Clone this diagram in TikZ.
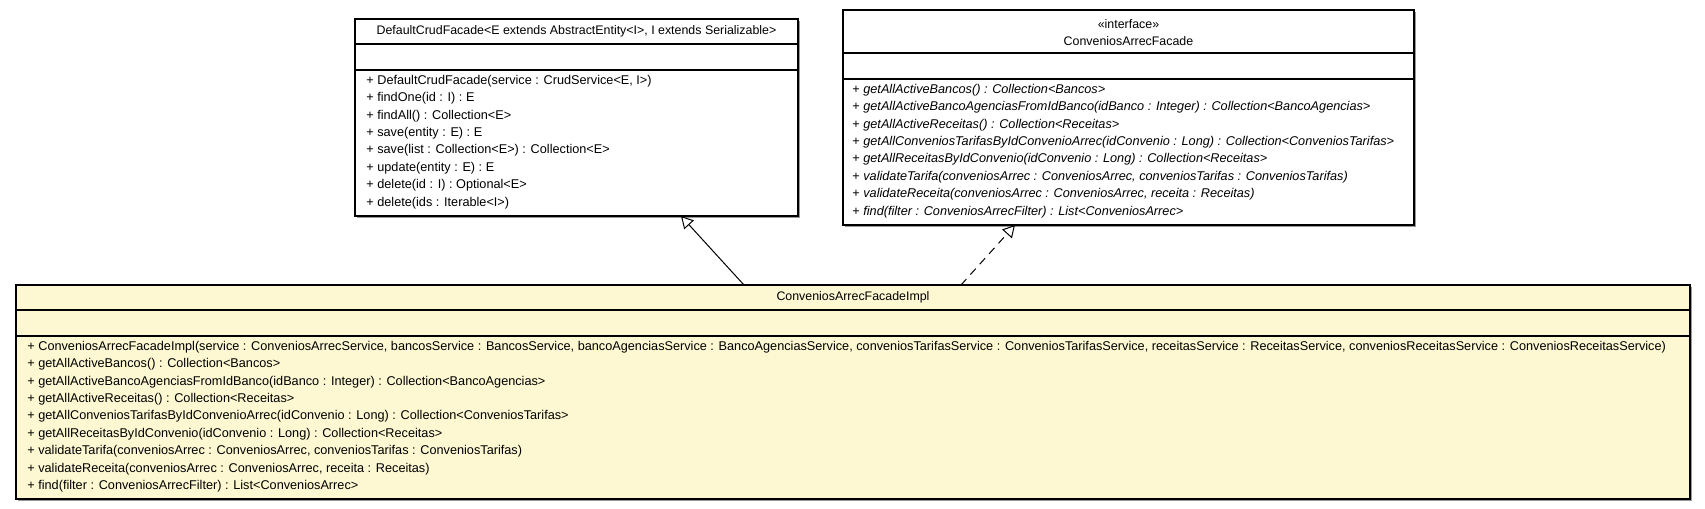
\documentclass[tikz,border=0pt]{standalone}
\usepackage{fontspec}
\setmainfont{Liberation Sans}
\usetikzlibrary{calc,positioning,arrows.meta}

\begin{document}
\begin{tikzpicture}[x=0.5pt,y=-0.5pt,
  umlbox/.style={draw=black,line width=0.75pt},
  shadowbox/.style={fill=black!40,draw=none},
  divider/.style={draw=black,line width=0.6pt},
  member/.style={inner sep=0pt,anchor=west,font=\fontsize{6.35}{7}\selectfont},
  classname/.style={inner sep=0pt,font=\fontsize{6.2}{7}\selectfont},
  inherit/.style={-{Triangle[open,length=6pt,width=6.5pt]},line width=0.5pt},
  realize/.style={inherit,dash pattern=on 4pt off 3pt}]

 \useasboundingbox (0,0) rectangle (1705,509);

    % corners of the three classes
    \coordinate (crud-nw) at (355,19);   \coordinate (crud-se) at (798,216);
    \coordinate (face-nw) at (843,10);   \coordinate (face-se) at (1414,225);
    \coordinate (impl-nw) at (16,285);   \coordinate (impl-se) at (1690,499);

    % shadows
    \fill[shadowbox] ($(crud-nw)+(2,2)$) rectangle ($(crud-se)+(2,2)$);
    \fill[shadowbox] ($(face-nw)+(2,2)$) rectangle ($(face-se)+(2,2)$);
    \fill[shadowbox] ($(impl-nw)+(2,2)$) rectangle ($(impl-se)+(2,2)$);

    % DefaultCrudFacade
    \draw[umlbox,fill=white] (crud-nw) rectangle (crud-se);
    \draw[divider] (355,44) -- (798,44);
    \draw[divider] (355,70) -- (798,70);
    \node[classname] (crud-name) at (576.5,31.5) {DefaultCrudFacade<E extends AbstractEntity<I>, I extends Serializable>};
    \foreach \m [count=\i] in {
        {+ DefaultCrudFacade(service : CrudService<E, I>)},
        {+ findOne(id : I) : E},
        {+ findAll() : Collection<E>},
        {+ save(entity : E) : E},
        {+ save(list : Collection<E>) : Collection<E>},
        {+ update(entity : E) : E},
        {+ delete(id : I) : Optional<E>},
        {+ delete(ids : Iterable<I>)}}
      \node[member] (crud-m\i) at (366,{81+17.4*(\i-1)}) {\m};

    % ConveniosArrecFacade
    \draw[umlbox,fill=white] (face-nw) rectangle (face-se);
    \draw[divider] (843,53) -- (1414,53);
    \draw[divider] (843,79) -- (1414,79);
    \node[classname] (face-stereo) at (1128.5,24) {«interface»};
    \node[classname] (face-name) at (1128.5,41) {ConveniosArrecFacade};
    \foreach \m [count=\i] in {
        {getAllActiveBancos() : Collection<Bancos>},
        {getAllActiveBancoAgenciasFromIdBanco(idBanco : Integer) : Collection<BancoAgencias>},
        {getAllActiveReceitas() : Collection<Receitas>},
        {getAllConveniosTarifasByIdConvenioArrec(idConvenio : Long) : Collection<ConveniosTarifas>},
        {getAllReceitasByIdConvenio(idConvenio : Long) : Collection<Receitas>},
        {validateTarifa(conveniosArrec : ConveniosArrec, conveniosTarifas : ConveniosTarifas)},
        {validateReceita(conveniosArrec : ConveniosArrec, receita : Receitas)},
        {find(filter : ConveniosArrecFilter) : List<ConveniosArrec>}}
      \node[member] (face-m\i) at (852,{90+17.4*(\i-1)}) {+ \itshape\m};

    % ConveniosArrecFacadeImpl
    \draw[umlbox,fill={rgb,255:red,253;green,248;blue,210}] (impl-nw) rectangle (impl-se);
    \draw[divider] (16,310) -- (1690,310);
    \draw[divider] (16,336) -- (1690,336);
    \node[classname] (impl-name) at (853,297.5) {ConveniosArrecFacadeImpl};
    \foreach \m [count=\i] in {
        {+ ConveniosArrecFacadeImpl(service : ConveniosArrecService, bancosService : BancosService, bancoAgenciasService : BancoAgenciasService, conveniosTarifasService : ConveniosTarifasService, receitasService : ReceitasService, conveniosReceitasService : ConveniosReceitasService)},
        {+ getAllActiveBancos() : Collection<Bancos>},
        {+ getAllActiveBancoAgenciasFromIdBanco(idBanco : Integer) : Collection<BancoAgencias>},
        {+ getAllActiveReceitas() : Collection<Receitas>},
        {+ getAllConveniosTarifasByIdConvenioArrec(idConvenio : Long) : Collection<ConveniosTarifas>},
        {+ getAllReceitasByIdConvenio(idConvenio : Long) : Collection<Receitas>},
        {+ validateTarifa(conveniosArrec : ConveniosArrec, conveniosTarifas : ConveniosTarifas)},
        {+ validateReceita(conveniosArrec : ConveniosArrec, receita : Receitas)},
        {+ find(filter : ConveniosArrecFilter) : List<ConveniosArrec>}}
      \node[member] (impl-m\i) at (27,{347+17.4*(\i-1)}) {\m};

    % generalization and realization
    \coordinate (crud-foot) at (681,216);
    \coordinate (face-foot) at (1015,225);
    \coordinate (impl-top-a) at (744,285);
    \coordinate (impl-top-b) at (961,285);
    \draw[inherit] (impl-top-a) -- (crud-foot);
    \draw[realize] (impl-top-b) -- (face-foot);
\end{tikzpicture}
\end{document}
